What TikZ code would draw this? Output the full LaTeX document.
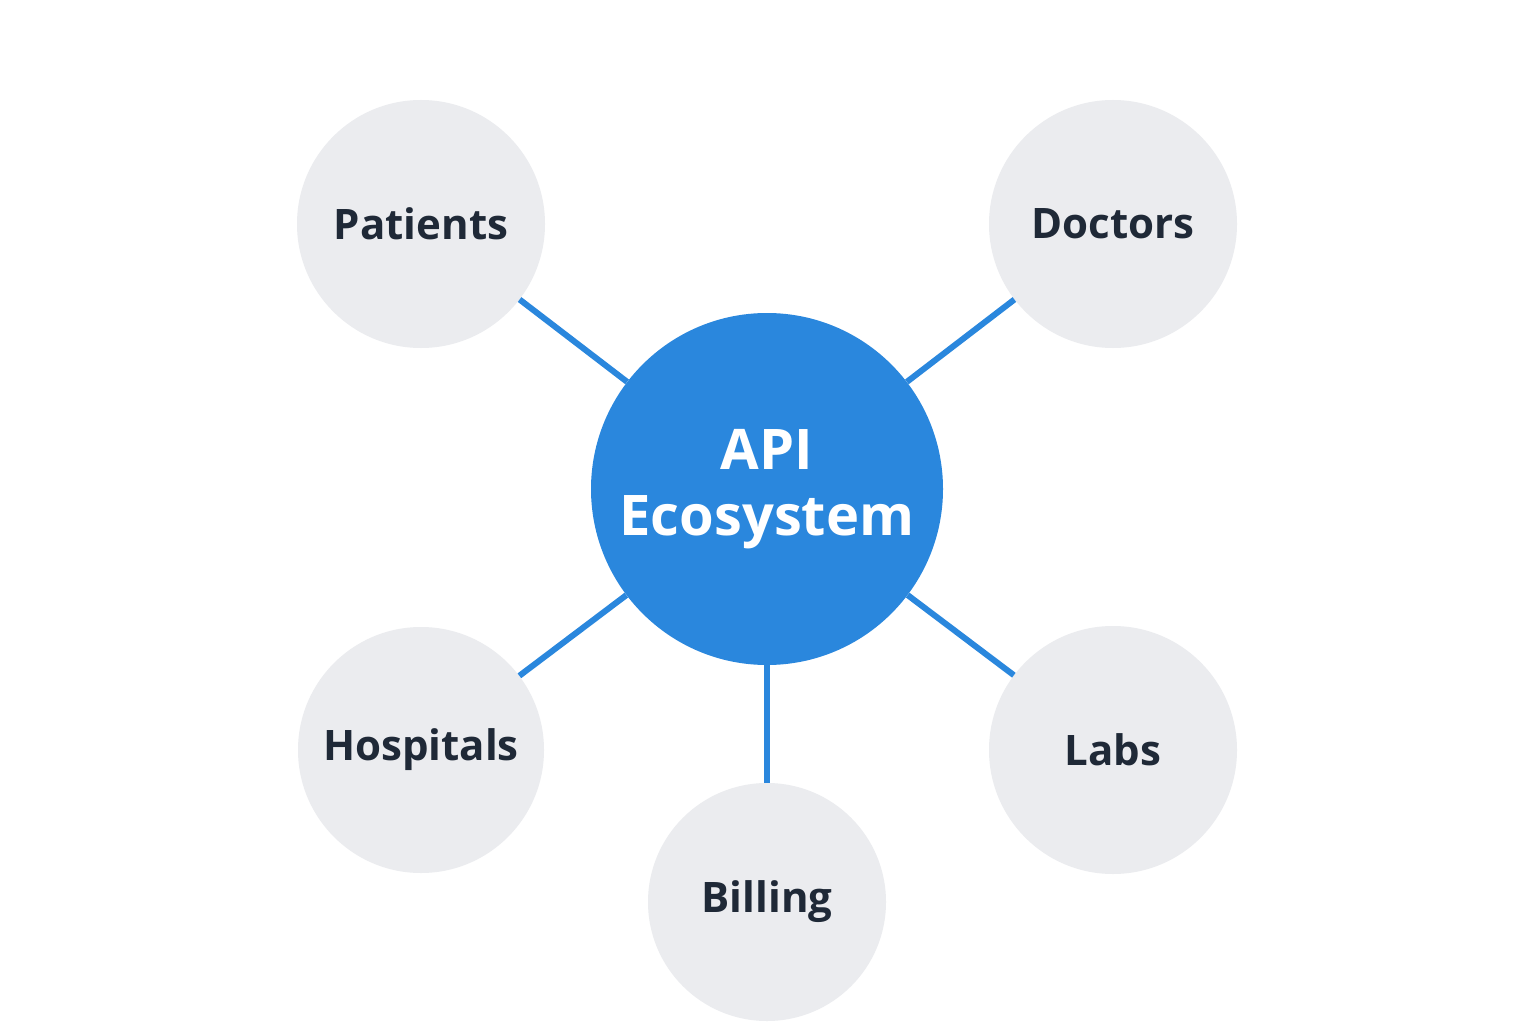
\documentclass[tikz,border=0pt]{standalone}
\usepackage{fontspec}
\setmainfont{Open Sans}
\definecolor{apiblue}{HTML}{2A87DD}
\definecolor{satgrey}{HTML}{EBECEF}
\definecolor{txtdark}{HTML}{1F2937}
\begin{document}
\begin{tikzpicture}[x=1pt,y=-1pt,
  sat/.style={circle,fill=satgrey,inner sep=0pt,text=txtdark,font=\fontsize{42}{48}\selectfont\bfseries},
  hub/.style={circle,fill=apiblue,inner sep=0pt,text=white,align=center,font=\fontsize{56}{66}\selectfont\bfseries},
  link/.style={draw=apiblue,line width=6pt}]
\fill[white] (0,0) rectangle (1536,1024);
\useasboundingbox (0,0) rectangle (1536,1024);
\node[hub,minimum size=352pt] (c) at (767,489) {API\\Ecosystem};
\node[sat,minimum size=248pt] (p) at (421,224) {Patients};
\node[sat,minimum size=248pt] (d) at (1113,224) {Doctors};
\node[sat,minimum size=246pt] (h) at (421,750) {Hospitals};
\node[sat,minimum size=248pt] (l) at (1113,750) {Labs};
\node[sat,minimum size=238pt] (b) at (767,902) {Billing};
\draw[link] (c) -- (p);
\draw[link] (c) -- (d);
\draw[link] (c) -- (h);
\draw[link] (c) -- (l);
\draw[link] (c) -- (b);
\end{tikzpicture}
\end{document}
